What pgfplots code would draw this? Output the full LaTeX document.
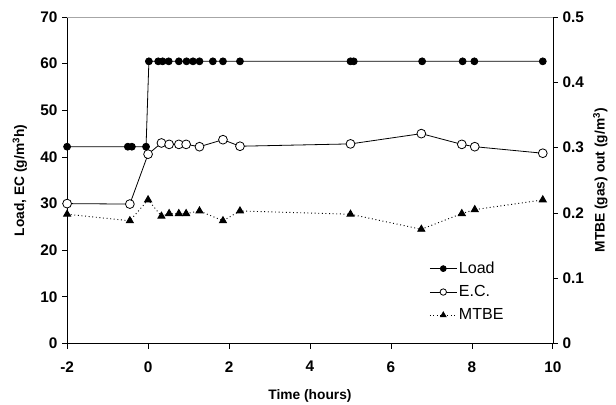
\documentclass[border=0pt]{standalone}
\usepackage{pgfplots}
\pgfplotsset{compat=1.18}
\usepackage{fontspec}
\setmainfont{Liberation Sans}

\begin{document}
\begin{tikzpicture}
\pgfplotsset{
  every axis/.append style={
    scale only axis,
    width=363.75pt,
    height=244.5pt,
    xmin=-2, xmax=10,
    tick align=outside,
    major tick length=3.75pt,
    tick style={black, line width=0.6pt},
    axis line style={black, line width=0.6pt, -},
    tick label style={font=\fontsize{11.5}{13}\selectfont\bfseries},
    label style={font=\fontsize{10.3}{12}\selectfont\bfseries},
    /pgf/number format/assume math mode=true,
  }
}
\begin{axis}[
  name=main,
  axis x line*=bottom,
  axis y line*=left,
  ymin=0, ymax=70,
  ytick={0,10,...,70},
  xtick={-2,0,...,10},
  xticklabel style={yshift=-6pt},
  xlabel={Time (hours)},
  ylabel={Load, EC (g/m$^{\mathbf{3}}$h)},
  ylabel style={yshift=3pt},
  xlabel style={yshift=-6pt},
]
  \draw[gray!70, line width=0.6pt] (rel axis cs:0,1) -- (rel axis cs:1,1);
  % Load
  \addplot[black, line width=0.6pt, mark=*, mark size=2.6pt] coordinates {
    (-2,42.2) (-0.5,42.2) (-0.4,42.2) (-0.05,42.2)
    (0.02,60.5) (0.25,60.5) (0.36,60.5) (0.51,60.5) (0.76,60.5) (0.95,60.5)
    (1.11,60.5) (1.27,60.5) (1.60,60.5) (1.85,60.5) (2.27,60.5)
    (5.0,60.5) (5.08,60.5) (6.77,60.5) (7.77,60.5) (8.06,60.5) (9.75,60.5)
  };
  % E.C.
  \addplot[black, line width=0.6pt, mark=*, mark size=3.3pt,
    mark options={fill=white, line width=0.6pt}] coordinates {
    (-2,30.0) (-0.45,29.9) (0.0,40.6) (0.33,43.0) (0.52,42.7) (0.76,42.7)
    (0.94,42.7) (1.27,42.2) (1.85,43.7) (2.27,42.3) (5.0,42.8) (6.75,45.0)
    (7.75,42.7) (8.07,42.2) (9.75,40.8)
  };
\end{axis}
\begin{axis}[
  axis x line=none,
  axis y line*=right,
  ymin=0, ymax=0.5,
  ytick={0,0.1,...,0.5},
  yticklabel style={/pgf/number format/fixed, /pgf/number format/precision=1},
  ylabel={MTBE (gas) out (g/m$^{\mathbf{3}}$)},
  ylabel style={yshift=0pt},
  legend style={draw=none, fill=none, at={(rel axis cs:0.903,0.06)},
    anchor=south east, font=\fontsize{12}{13}\selectfont,
    row sep=4.5pt, inner sep=0pt,
    nodes={inner sep=1.5pt}},
  legend image code/.code={
    \draw[mark repeat=2, mark phase=2, #1]
      plot coordinates {(0cm,0cm) (0.35cm,0cm) (0.7cm,0cm)};},
  legend cell align=left,
]
  \addlegendimage{black, line width=0.6pt, mark=*, mark size=2.2pt}
  \addlegendentry{Load}
  \addlegendimage{black, line width=0.6pt, mark=*, mark size=2.4pt,
    mark options={fill=white}}
  \addlegendentry{E.C.}
  \addlegendimage{black, line width=0.6pt, dotted, mark=triangle*,
    mark size=2.4pt, mark options={solid}}
  \addlegendentry{MTBE}
  % MTBE
  \addplot[black, line width=0.7pt, dotted, mark=triangle*, mark size=3pt,
    mark options={solid}, forget plot] coordinates {
    (-2,0.198) (-0.45,0.188) (0.0,0.220) (0.33,0.195) (0.52,0.199)
    (0.76,0.199) (0.94,0.199) (1.27,0.203) (1.85,0.188) (2.27,0.203)
    (5.0,0.198) (6.75,0.175) (7.75,0.199) (8.07,0.205) (9.75,0.220)
  };
\end{axis}
\pgfresetboundingbox
\path ([xshift=-50.25pt,yshift=-45.75pt]main.south west)
  rectangle ([xshift=47.25pt,yshift=12.75pt]main.north east);
\end{tikzpicture}
\end{document}
